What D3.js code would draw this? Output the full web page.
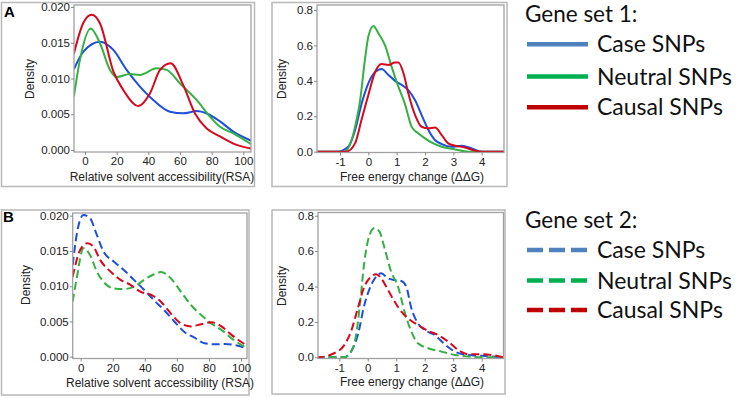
<!DOCTYPE html>
<html><head><meta charset="utf-8">
<script src="https://cdnjs.cloudflare.com/ajax/libs/d3/7.8.5/d3.min.js"></script>
<style>body{margin:0;background:#fff}svg{display:block}</style>
</head><body>
<svg id="c" width="737" height="398"></svg>
<script>
// ---- data ----
const seriesNames = ["Case SNPs", "Neutral SNPs", "Causal SNPs"];
const rsaTicks = [0, 20, 40, 60, 80, 100];
const rsaDensTicks = [0, 0.005, 0.010, 0.015, 0.020];
const ddgTicks = [-1, 0, 1, 2, 3, 4];
const ddgDensTicks = [0, 0.2, 0.4, 0.6, 0.8];

// Gene set 1: RSA [x, density]
const set1RsaCase = [[-7,0.0113],[-1,0.01375],[9.5,0.01515],[17.9,0.014],[26.3,0.0112],[34.7,0.00886],[43.1,0.007],[53.7,0.00536],[62.1,0.00513],[70.5,0.00545],[76.9,0.0051],[85.3,0.0040],[93.7,0.00256],[105,0.0013]];
const set1RsaNeutral = [[-7,0.0075],[-3.2,0.0126],[3.6,0.0170],[9.5,0.0149],[15.8,0.0112],[20,0.0102],[28.4,0.01063],[34.7,0.0105],[45.3,0.01142],[51.6,0.0112],[60,0.0093],[70.5,0.0070],[79,0.00466],[85.3,0.00326],[93.7,0.00233],[105,0.0008]];
const set1RsaCausal = [[-7,0.0135],[-1,0.0178],[4.2,0.0189],[9.5,0.0177],[17.9,0.011],[24.2,0.0084],[33.7,0.00615],[41,0.0079],[47.4,0.0112],[54.1,0.01213],[62,0.0091],[69.5,0.0051],[76.9,0.0030],[85.3,0.0019],[93.7,0.0009],[105,0.0002]];
// Gene set 1: free energy change [x, density]
const set1DdgCase = [[-1.8,0],[-1.1,0],[-0.71,0.028],[-0.47,0.12],[-0.24,0.27],[0,0.386],[0.24,0.45],[0.47,0.467],[0.71,0.433],[0.94,0.40],[1.18,0.377],[1.41,0.348],[1.65,0.29],[1.88,0.207],[2.12,0.122],[2.35,0.066],[2.59,0.043],[2.94,0.028],[3.29,0.034],[3.65,0.019],[4,0],[4.8,0]];
const set1DdgNeutral = [[-1.8,0],[-0.85,0],[-0.59,0.066],[-0.47,0.14],[-0.29,0.29],[-0.12,0.52],[0,0.65],[0.18,0.71],[0.35,0.67],[0.59,0.60],[0.82,0.48],[1.06,0.367],[1.29,0.27],[1.53,0.14],[1.76,0.104],[2,0.075],[2.24,0.051],[2.59,0.028],[3.06,0.013],[3.53,0],[4.8,0]];
const set1DdgCausal = [[-1.8,0],[-0.78,0],[-0.47,0.047],[-0.24,0.18],[0,0.32],[0.24,0.45],[0.47,0.495],[0.71,0.49],[0.94,0.503],[1.06,0.503],[1.24,0.443],[1.41,0.33],[1.65,0.207],[1.88,0.141],[2.12,0.132],[2.35,0.136],[2.59,0.094],[2.82,0.047],[3.06,0.034],[3.41,0.024],[3.76,0.006],[4,0],[4.8,0]];
// Gene set 2: RSA
const set2RsaCase = [[-5,0.013],[-2.5,0.0173],[1.7,0.0201],[5.9,0.0196],[10,0.0173],[14.3,0.0149],[20.6,0.0135],[26.9,0.0123],[33.2,0.0109],[39.5,0.0095],[45.8,0.0080],[52.1,0.0066],[58.4,0.0050],[64.7,0.0035],[71,0.0027],[77.3,0.0019],[83.6,0.00175],[89.9,0.0018],[96.2,0.00165],[104.6,0.0011]];
const set2RsaNeutral = [[-5,0.0078],[-2.5,0.0111],[1.7,0.0154],[5.9,0.0144],[10,0.0121],[14.3,0.0106],[20.6,0.0097],[26.9,0.0096],[33.2,0.0099],[39.5,0.0109],[45.8,0.0117],[50,0.0120],[56.3,0.0111],[62.6,0.0092],[68.9,0.0073],[75.2,0.0059],[81.5,0.0047],[87.8,0.0038],[94.1,0.0026],[104.6,0.0011]];
const set2RsaCausal = [[-5,0.01135],[-0.4,0.0151],[4.2,0.0161],[8,0.0156],[12.2,0.0137],[18.5,0.0121],[24.8,0.0109],[31.1,0.0102],[37.4,0.0092],[43.7,0.0088],[50,0.0078],[56.3,0.0061],[62.6,0.0047],[68.9,0.0043],[75.2,0.0046],[81.5,0.0049],[87.8,0.0043],[94.1,0.0031],[104.6,0.0014]];
// Gene set 2: free energy change
const set2DdgCase = [[-1.8,0],[-0.82,0],[-0.59,0.032],[-0.35,0.126],[-0.12,0.296],[0.12,0.409],[0.35,0.465],[0.47,0.475],[0.71,0.446],[0.94,0.437],[1.18,0.431],[1.35,0.40],[1.53,0.277],[1.76,0.192],[2,0.154],[2.35,0.126],[2.71,0.073],[3.06,0.032],[3.53,0.013],[4.24,0.006],[4.76,0]];
const set2DdgNeutral = [[-1.8,0],[-0.82,0],[-0.59,0.032],[-0.41,0.126],[-0.29,0.277],[-0.12,0.54],[0.06,0.69],[0.24,0.73],[0.41,0.71],[0.59,0.616],[0.82,0.484],[1.06,0.40],[1.29,0.258],[1.53,0.145],[1.76,0.079],[2.12,0.051],[2.59,0.032],[3.06,0.013],[3.53,0.004],[4.24,0],[4.8,0]];
const set2DdgCausal = [[-1.8,0],[-1.76,0],[-1.18,0.023],[-0.82,0.07],[-0.59,0.145],[-0.35,0.277],[-0.12,0.40],[0.12,0.456],[0.29,0.469],[0.47,0.446],[0.71,0.38],[0.94,0.315],[1.18,0.258],[1.41,0.22],[1.76,0.183],[2.12,0.149],[2.47,0.126],[2.82,0.089],[3.18,0.041],[3.53,0.017],[4,0.017],[4.35,0.013],[4.76,0]];

const legendTitles = ["Gene set 1:", "Gene set 2:"];
const xTitles = ["Relative solvent accessibility (RSA)", "Free energy change (\u0394\u0394G)"];
const yTitle = "Density";
const panelLetters = ["A", "B"];

// ---- styling ----
const lineColors = ["#1d4fd8", "#35b043", "#d6081c"];
const legendColors = ["#4f81bd", "#00b050", "#c00000"];
const svg = d3.select("#c");
const tickFont = "Liberation Sans, Arial, sans-serif";

function panel(cfg) {
  const g = svg.append("g");
  g.append("rect").attr("x", cfg.frame[0]).attr("y", cfg.frame[1])
    .attr("width", cfg.frame[2]).attr("height", cfg.frame[3])
    .attr("fill", "none").attr("stroke", "#b8b8b8").attr("stroke-width", 1.5);
  const x = d3.scaleLinear().domain(cfg.xd).range(cfg.xr);
  const y = d3.scaleLinear().domain(cfg.yd).range(cfg.yr);
  const [pl, pt, pr, pb] = cfg.plot;
  const id = "clip" + cfg.id;
  svg.append("clipPath").attr("id", id).append("rect")
    .attr("x", pl).attr("y", pt).attr("width", pr - pl).attr("height", pb - pt);
  const line = d3.line().x(d => x(d[0])).y(d => y(d[1])).curve(d3.curveMonotoneX);
  const lg = g.append("g").attr("clip-path", `url(#${id})`);
  cfg.series.forEach((s, i) => {
    lg.append("path").attr("d", line(s)).attr("fill", "none")
      .attr("stroke", lineColors[i]).attr("stroke-width", 2)
      .attr("stroke-dasharray", cfg.dashed ? "8,4" : null);
  });
  g.append("rect").attr("x", pl).attr("y", pt).attr("width", pr - pl).attr("height", pb - pt)
    .attr("fill", "none").attr("stroke", "#a0a0a0").attr("stroke-width", 1.3);
  const ax = g.append("g").attr("transform", `translate(0,${pb})`)
    .call(d3.axisBottom(x).tickValues(cfg.xt).tickSize(3).tickPadding(2).tickFormat(d3.format("d")));
  const ay = g.append("g").attr("transform", `translate(${pl},0)`)
    .call(d3.axisLeft(y).tickValues(cfg.yt).tickSize(3).tickPadding(1).tickFormat(d3.format(cfg.yf)));
  [ax, ay].forEach(a => {
    a.select(".domain").remove();
    a.selectAll("line").attr("stroke", "#888");
    a.selectAll("text").attr("fill", "#222").attr("font-family", tickFont).attr("font-size", 11.5);
  });
  ax.selectAll("text").text(d => d < 0 ? "-" + Math.abs(d) : d);
  g.append("text").attr("x", cfg.xtitle[0]).attr("y", cfg.xtitle[1]).attr("text-anchor", "middle")
    .attr("font-family", tickFont).attr("font-size", 12).attr("fill", "#222").text(cfg.xlab);
  g.append("text").attr("transform", `translate(${cfg.ytitle[0]},${cfg.ytitle[1]}) rotate(-90)`)
    .attr("text-anchor", "middle").attr("dominant-baseline", "central")
    .attr("font-family", tickFont).attr("font-size", 12).attr("fill", "#222").text(yTitle);
}

panel({id: "a1", frame: [1.5, 2.5, 253, 184], plot: [74, 5, 251, 152], xd: [0, 100], xr: [85, 243.3],
  yd: [0, 0.02], yr: [150, 7], xt: rsaTicks, yt: rsaDensTicks, yf: ".3f",
  series: [set1RsaCase, set1RsaNeutral, set1RsaCausal], dashed: false, xlab: xTitles[0].replace(" (", "("),
  xtitle: [162, 181], ytitle: [30, 79]});
panel({id: "a2", frame: [272, 2.5, 235, 184], plot: [317, 5, 504, 152.5], xd: [-1, 4], xr: [340, 481.7],
  yd: [0, 0.8], yr: [151.7, 10], xt: ddgTicks, yt: ddgDensTicks, yf: ".1f",
  series: [set1DdgCase, set1DdgNeutral, set1DdgCausal], dashed: false, xlab: xTitles[1],
  xtitle: [412, 181], ytitle: [282, 79]});
panel({id: "b1", frame: [1.5, 210, 247.5, 185], plot: [72.7, 213, 247, 358.5], xd: [0, 100], xr: [80.7, 241],
  yd: [0, 0.02], yr: [356.7, 215.7], xt: rsaTicks, yt: rsaDensTicks, yf: ".3f",
  series: [set2RsaCase, set2RsaNeutral, set2RsaCausal], dashed: true, xlab: xTitles[0],
  xtitle: [160, 387], ytitle: [26, 285]});
panel({id: "b2", frame: [272, 210, 233, 184], plot: [318, 212.5, 503.5, 358.5], xd: [-1, 4], xr: [339.3, 481.7],
  yd: [0, 0.8], yr: [357.3, 215.7], xt: ddgTicks, yt: ddgDensTicks, yf: ".1f",
  series: [set2DdgCase, set2DdgNeutral, set2DdgCausal], dashed: true, xlab: xTitles[1],
  xtitle: [412, 386], ytitle: [282, 286]});

svg.append("text").attr("x", 4).attr("y", 17).attr("font-family", tickFont).attr("font-weight", "bold")
  .attr("font-size", 15).text(panelLetters[0]);
svg.append("text").attr("x", 3).attr("y", 222).attr("font-family", tickFont).attr("font-weight", "bold")
  .attr("font-size", 15).text(panelLetters[1]);

function legend(title, top, rowY, dashed) {
  const g = svg.append("g");
  g.append("text").attr("x", 525).attr("y", top).attr("font-family", "Lato, sans-serif")
    .attr("font-size", 22.5).attr("fill", "#111").text(title);
  seriesNames.forEach((n, i) => {
    const yy = rowY[i];
    g.append("line").attr("x1", 527).attr("x2", 588).attr("y1", yy).attr("y2", yy)
      .attr("stroke", legendColors[i]).attr("stroke-width", 4.5)
      .attr("stroke-dasharray", dashed ? "16,6" : null);
    g.append("text").attr("x", 597).attr("y", yy + 8).attr("font-family", "Lato, sans-serif")
      .attr("font-size", 23).attr("fill", "#111").text(n);
  });
}
legend(legendTitles[0], 22, [44.3, 76.5, 107.3], false);
legend(legendTitles[1], 228, [250, 280.5, 310], true);
</script>
</body></html>
